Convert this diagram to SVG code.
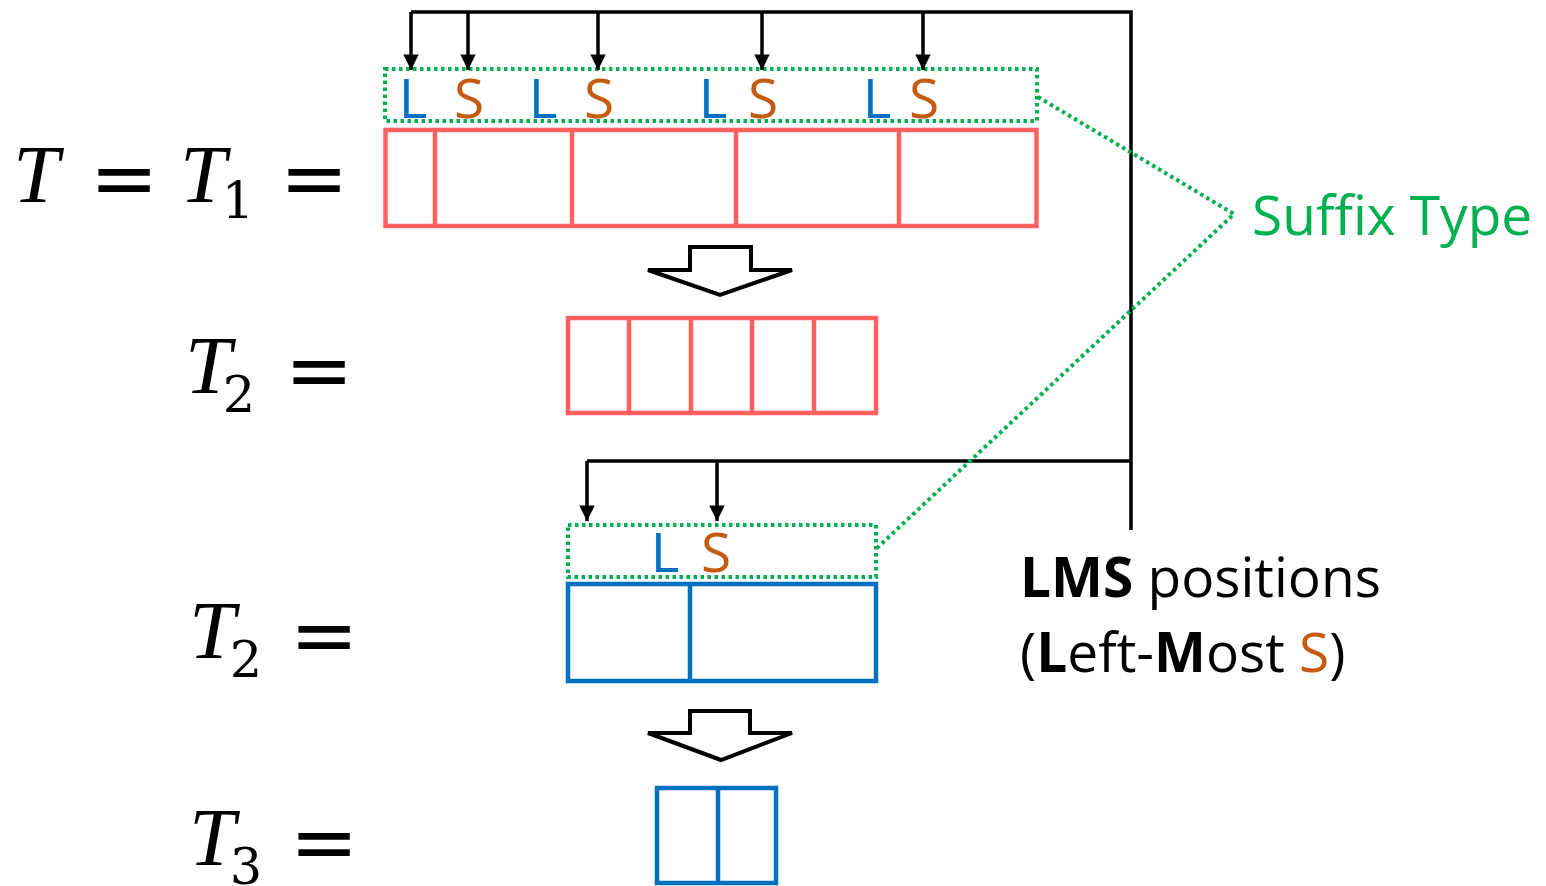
<svg xmlns="http://www.w3.org/2000/svg" width="1546" height="886" viewBox="0 0 1546 886">
  <defs>
    <style>
      .math { font-family: "Liberation Serif", "Times New Roman", serif; font-style: italic; font-size: 83px; fill: #000; }
      .sub { font-family: "DejaVu Serif", "Liberation Serif", serif; font-size: 51px; fill: #000; text-anchor: middle; }
      .eq { font-family: "DejaVu Sans", sans-serif; font-size: 82px; fill: #000; text-anchor: middle; }
      .lbl { font-family: "Open Sans", "Liberation Sans", sans-serif; font-size: 55px; text-anchor: middle; }
      .L { fill: #0070C0; }
      .S { fill: #C55A11; }
      .txt { font-family: "Open Sans", "Liberation Sans", sans-serif; font-size: 55px; fill: #000; }
      .red { fill: none; stroke: #FF6161; stroke-width: 4.5; }
      .blue { fill: none; stroke: #0070C0; stroke-width: 4.5; }
      .dot { fill: none; stroke: #00B050; stroke-width: 4; stroke-dasharray: 3.5 3.5; }
      .wire { fill: none; stroke: #000; stroke-width: 3.5; }
      .block { fill: #fff; stroke: #000; stroke-width: 4; stroke-linejoin: miter; }
    </style>
    <marker id="head" viewBox="0 0 10 10" refX="10" refY="5" markerWidth="4.6" markerHeight="4.4" orient="auto">
      <path d="M0,0 L10,5 L0,10 z" fill="#000"/>
    </marker>
  </defs>

  <!-- equation labels -->
  <g id="label-T1">
    <text class="math" x="13" y="202">T</text>
    <text class="eq" x="124" y="206">=</text>
    <text class="math" x="180" y="202">T</text>
    <text class="sub" x="238" y="218">1</text>
    <text class="eq" x="314" y="206">=</text>
  </g>
  <g id="label-T2a">
    <text class="math" x="185" y="393">T</text>
    <text class="sub" x="239" y="412">2</text>
    <text class="eq" x="319" y="398">=</text>
  </g>
  <g id="label-T2b">
    <text class="math" x="189" y="658">T</text>
    <text class="sub" x="246" y="677">2</text>
    <text class="eq" x="324" y="663">=</text>
  </g>
  <g id="label-T3">
    <text class="math" x="189" y="865">T</text>
    <text class="sub" x="246" y="884">3</text>
    <text class="eq" x="324" y="870">=</text>
  </g>

  <!-- T1 array with suffix types -->
  <g id="T1">
    <rect class="red" x="385.5" y="130" width="651" height="96"/>
    <path class="red" d="M435,130 V226 M572,130 V226 M736,130 V226 M899,130 V226"/>
  </g>
  <g id="types-T1">
    <rect class="dot" x="385" y="69" width="652" height="52"/>
    <text class="lbl L" x="413" y="118">L</text>
    <text class="lbl S" x="469" y="118">S</text>
    <text class="lbl L" x="543" y="118">L</text>
    <text class="lbl S" x="599" y="118">S</text>
    <text class="lbl L" x="713" y="118">L</text>
    <text class="lbl S" x="763" y="118">S</text>
    <text class="lbl L" x="877" y="118">L</text>
    <text class="lbl S" x="924" y="118">S</text>
  </g>

  <!-- reduction arrows -->
  <g id="reduce-1">
    <polygon class="block" points="690,247 751,247 751,270 792,270 720,295 648,270 690,270"/>
  </g>
  <g id="reduce-2">
    <polygon class="block" points="690,711 750,711 750,733 792,733 721,760 648,733 690,733"/>
  </g>

  <!-- T2 (red) -->
  <g id="T2-red">
    <rect class="red" x="568" y="318" width="308" height="95"/>
    <path class="red" d="M629,318 V413 M691,318 V413 M752,318 V413 M814,318 V413"/>
  </g>

  <!-- T2 (blue) with suffix types -->
  <g id="types-T2">
    <rect class="dot" x="568" y="525" width="308" height="52"/>
    <text class="lbl L" x="665" y="572">L</text>
    <text class="lbl S" x="716" y="572">S</text>
  </g>
  <g id="T2-blue">
    <rect class="blue" x="568" y="584" width="308" height="97"/>
    <path class="blue" d="M690,584 V681"/>
  </g>

  <!-- T3 -->
  <g id="T3">
    <rect class="blue" x="657" y="788" width="119" height="95"/>
    <path class="blue" d="M718,788 V883"/>
  </g>

  <!-- captions -->
  <g id="suffix-type">
    <text class="txt" x="1252" y="235" style="fill:#00B050">Suffix Type</text>
  </g>
  <g id="lms">
    <text class="txt" x="1020" y="597"><tspan font-weight="bold">LMS</tspan> positions</text>
    <text class="txt" x="1020" y="672">(<tspan font-weight="bold">L</tspan>eft-<tspan font-weight="bold">M</tspan>ost <tspan class="S">S</tspan>)</text>
  </g>

  <!-- connectors -->
  <g id="connectors">
    <path class="wire" d="M411,12 H1131 V530"/>
    <path class="wire" d="M587,461 H1131"/>
    <path class="wire" d="M411,12 V70" marker-end="url(#head)"/>
    <path class="wire" d="M468,12 V70" marker-end="url(#head)"/>
    <path class="wire" d="M598,12 V70" marker-end="url(#head)"/>
    <path class="wire" d="M762,12 V70" marker-end="url(#head)"/>
    <path class="wire" d="M923,12 V70" marker-end="url(#head)"/>
    <path class="wire" d="M587,461 V521" marker-end="url(#head)"/>
    <path class="wire" d="M717,461 V521" marker-end="url(#head)"/>
    <path class="dot" d="M1038,97 L1234,214 L877,548"/>
  </g>
</svg>
